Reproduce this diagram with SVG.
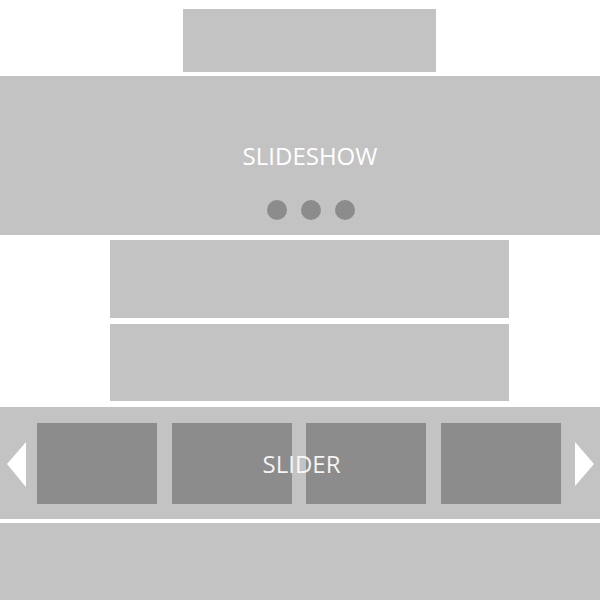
<svg xmlns="http://www.w3.org/2000/svg" width="600" height="600" viewBox="0 0 600 600">
<style>
.blk{fill:#c3c3c3}
.dk{fill:#8c8c8c}
.lbl{font-family:"Open Sans","Noto Sans",sans-serif;font-size:24px;fill:#ffffff;text-anchor:middle}
.arr{fill:#ffffff}
</style>
<rect width="600" height="600" fill="#ffffff"/>
<g id="header"><rect class="blk" x="183" y="9" width="253" height="63"/></g>
<g id="slideshow">
<rect class="blk" x="0" y="76" width="600" height="159"/>
<text class="lbl" x="310" y="165">SLIDESHOW</text>
<circle class="dk" cx="277" cy="210" r="10"/>
<circle class="dk" cx="311" cy="210" r="10"/>
<circle class="dk" cx="345" cy="210" r="10"/>
</g>
<g id="block1"><rect class="blk" x="110" y="240" width="399" height="78"/></g>
<g id="block2"><rect class="blk" x="110" y="324" width="399" height="77"/></g>
<g id="slider">
<rect class="blk" x="0" y="407" width="600" height="112"/>
<rect class="dk" x="37" y="423" width="120" height="81"/>
<rect class="dk" x="172" y="423" width="120" height="81"/>
<rect class="dk" x="306" y="423" width="120" height="81"/>
<rect class="dk" x="441" y="423" width="120" height="81"/>
<polygon class="arr" points="26,442 7,464 26,487"/>
<polygon class="arr" points="575,442 594,464 575,486"/>
<text class="lbl" x="301.5" y="473" fill-opacity="0.92">SLIDER</text>
</g>
<g id="footer"><rect class="blk" x="0" y="523" width="600" height="77"/></g>
<g id="connectors"></g>
</svg>
